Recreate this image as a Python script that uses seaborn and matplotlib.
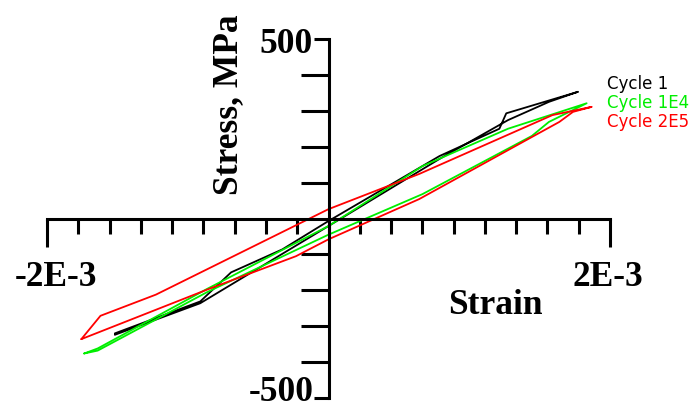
import numpy as np
import pandas as pd
import matplotlib
matplotlib.use("Agg")
import matplotlib.pyplot as plt
import seaborn as sns

# ---- data (strain in units of 1E-3, stress in MPa) ----
cycle1_strain = [-1.518, -0.911, -0.692, -0.328, 0.0, 0.789, 1.214, 1.263, 1.773,
                 1.567, 1.275, 0.789, 0.0, -0.911, -1.518]
cycle1_stress = [-320, -231, -150, -86, -7, 174, 250, 293, 353,
                 325, 274, 166, -21, -236, -324]

cycle1e4_strain = [-1.736, -1.640, -0.862, 0.0, 0.668, 1.445, 1.566, 1.834,
                   1.275, 0.668, 0.0, -0.862, -1.640, -1.736]
cycle1e4_stress = [-376, -368, -205, -45, 68, 230, 269, 321,
                   250, 146, -21, -196, -362, -376]

cycle2e5_strain = [-1.756, -1.620, -1.226, 0.0, 0.644, 1.591, 1.870,
                   1.737, 1.640, 1.445, 0.644, 0.0, -0.231, -0.862, -1.756]
cycle2e5_stress = [-336, -271, -212, 26, 124, 288, 311,
                   297, 269, 227, 54, -58, -105, -198, -336]

series_names = ["Cycle 1", "Cycle 1E4", "Cycle 2E5"]
series_colors = ["#000000", "#00ee00", "#ff0000"]
x_tick_labels = ["-2E-3", "2E-3"]
y_tick_labels = ["500", "-500"]

frames = []
for name, xs, ys in zip(series_names,
                        [cycle1_strain, cycle1e4_strain, cycle2e5_strain],
                        [cycle1_stress, cycle1e4_stress, cycle2e5_stress]):
    frames.append(pd.DataFrame({"strain": np.array(xs) * 1e-3,
                                "stress": ys,
                                "cycle": name}))
df = pd.concat(frames, ignore_index=True)

sns.set_style("white")
plt.rcParams["font.family"] = ["DejaVu Sans"]

fig = plt.figure(figsize=(6.9, 4.14), dpi=100)
ax = fig.add_axes([47 / 690, 15 / 414, 563 / 690, 359 / 414])

sns.lineplot(data=df, x="strain", y="stress", hue="cycle", sort=False,
             estimator=None, units="cycle",
             palette=dict(zip(series_names, series_colors)),
             legend=False, linewidth=1.3, ax=ax)
for ln in ax.lines:
    ln.set_clip_on(False)

ax.set_xlim(-2e-3, 2e-3)
ax.set_ylim(-500, 500)
ax.set_xlabel("")
ax.set_ylabel("")

# axes crossing at zero
for s in ["top", "right"]:
    ax.spines[s].set_visible(False)
ax.spines["left"].set_position(("data", 0))
ax.spines["bottom"].set_position(("data", 0))
for s in ["left", "bottom"]:
    ax.spines[s].set_linewidth(2.2)
    ax.spines[s].set_color("black")
    ax.spines[s].set_capstyle("projecting")

ax.set_xticks([-2e-3, 2e-3])
ax.set_xticks(np.linspace(-2e-3, 2e-3, 19)[1:-1], minor=True)
ax.set_yticks([-500, 500])
ax.set_yticks([-400, -300, -200, -100, 100, 200, 300, 400], minor=True)
ax.set_xticklabels([])
ax.set_yticklabels([])
ax.tick_params(bottom=True, left=True, which="both")
ax.tick_params(axis="x", which="major", direction="out", length=20, width=2.2, color="black")
ax.tick_params(axis="x", which="minor", direction="out", length=10.8, width=2.2, color="black")
ax.tick_params(axis="y", which="major", direction="out", length=10.8, width=2.2, color="black")
ax.tick_params(axis="y", which="minor", direction="out", length=20, width=2.2, color="black")

serif = dict(family=["Liberation Serif", "DejaVu Serif"], weight="bold", size=25.5, color="black")
ax.text(-1.936e-3, -186, x_tick_labels[0], ha="center", va="baseline", **serif)
ax.text(1.986e-3, -186, x_tick_labels[1], ha="center", va="baseline", **serif)
ax.text(-0.113e-3, 464, y_tick_labels[0], ha="right", va="baseline", **serif)
ax.text(-0.106e-3, -506, y_tick_labels[1], ha="right", va="baseline", **serif)
ax.text(1.184e-3, -263, "Strain", ha="center", va="baseline", **serif)
ax.text(-0.709e-3, 321, "Stress, MPa", ha="center", va="center", rotation=90, **serif)

for name, col, yy in zip(series_names, series_colors, [377, 324, 271]):
    ax.text(1.979e-3, yy, name, color=col, ha="left", va="center", fontsize=12,
            family=["DejaVu Sans"])

fig.savefig("out.png", dpi=100)
